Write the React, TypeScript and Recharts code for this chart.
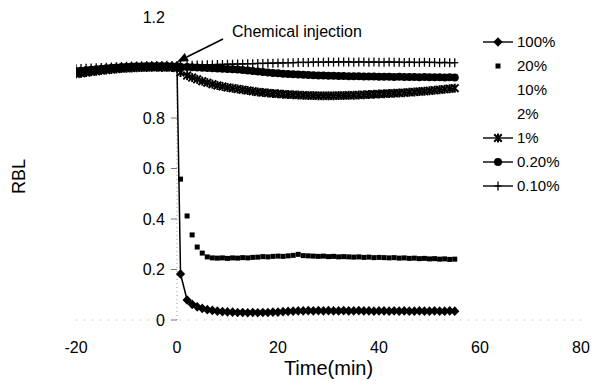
import React from "react";
import {
  LineChart,
  Line,
  XAxis,
  YAxis,
  ReferenceLine,
  ReferenceDot,
} from "recharts";

// time axis (min); injection at 0
const minutes = [
  -20, -19, -18, -17, -16, -15, -14, -13, -12, -11,
  -10, -9, -8, -7, -6, -5, -4, -3, -2, -1,
  0, 0.7,
  2, 3, 4, 5, 6, 7, 8, 9, 10,
  11, 12, 13, 14, 15, 16, 17, 18, 19, 20,
  21, 22, 23, 24, 25, 26, 27, 28, 29, 30,
  31, 32, 33, 34, 35, 36, 37, 38, 39, 40,
  41, 42, 43, 44, 45, 46, 47, 48, 49, 50,
  51, 52, 53, 54, 55,
];

const rbl100 = [
  0.978, 0.98, 0.983, 0.985, 0.988, 0.99, 0.993, 0.995, 0.997, 0.998,
  1.0, 1.0, 1.001, 1.002, 1.002, 1.003, 1.003, 1.003, 1.004, 1.003,
  1.003, 0.182,
  0.079, 0.062, 0.052, 0.046, 0.041, 0.038, 0.035, 0.033, 0.032,
  0.031, 0.03, 0.03, 0.029, 0.03, 0.029, 0.03, 0.03, 0.031, 0.031,
  0.033, 0.034, 0.035, 0.036, 0.036, 0.037, 0.036, 0.037, 0.036, 0.037,
  0.036, 0.036, 0.037, 0.036, 0.036, 0.037, 0.036, 0.036, 0.035, 0.036,
  0.036, 0.035, 0.036, 0.035, 0.036, 0.035, 0.035, 0.036, 0.035, 0.035,
  0.036, 0.035, 0.035, 0.036, 0.035,
];

const rbl20 = [
  0.99, 0.991, 0.993, 0.994, 0.996, 0.997, 0.998, 0.999, 1.0, 1.0,
  1.001, 1.001, 1.002, 1.002, 1.002, 1.003, 1.003, 1.002, 1.003, 1.003,
  1.002, 0.558,
  0.412, 0.337, 0.289, 0.265, 0.25, 0.246, 0.245, 0.246, 0.244,
  0.246, 0.245, 0.247, 0.246, 0.248, 0.249, 0.251, 0.25, 0.252, 0.253,
  0.252, 0.254, 0.256, 0.26, 0.255, 0.254, 0.253, 0.252, 0.253, 0.251,
  0.252, 0.25, 0.251, 0.25, 0.249, 0.25, 0.248, 0.249, 0.247, 0.248,
  0.247, 0.246, 0.247, 0.245, 0.246, 0.244, 0.245, 0.243, 0.244, 0.242,
  0.243, 0.241, 0.242, 0.24, 0.241,
];

const rbl1 = [
  0.975, 0.977, 0.98, 0.983, 0.985, 0.988, 0.99, 0.992, 0.994, 0.996,
  0.997, 0.998, 0.999, 1.0, 1.0, 1.001, 1.001, 1.0, 1.001, 1.0,
  0.998, 0.98,
  0.968, 0.96, 0.953, 0.946, 0.94, 0.934, 0.929, 0.925, 0.921,
  0.918, 0.915, 0.912, 0.909, 0.906, 0.903, 0.901, 0.899, 0.897, 0.896,
  0.894, 0.893, 0.892, 0.891, 0.89, 0.889, 0.889, 0.888, 0.888, 0.888,
  0.888, 0.889, 0.889, 0.89, 0.89, 0.891, 0.892, 0.893, 0.894, 0.895,
  0.896, 0.897, 0.898, 0.899, 0.9, 0.902, 0.903, 0.905, 0.906, 0.908,
  0.91, 0.912, 0.914, 0.916, 0.918,
];

const rbl02 = [
  0.985, 0.987, 0.989, 0.991, 0.993, 0.995, 0.997, 0.999, 1.0, 1.002,
  1.003, 1.004, 1.005, 1.005, 1.006, 1.006, 1.006, 1.006, 1.006, 1.005,
  1.005, 1.003,
  1.002, 1.001, 1.0, 0.999, 0.998, 0.997, 0.996, 0.995, 0.994,
  0.993, 0.992, 0.99, 0.988, 0.986, 0.984, 0.982, 0.98, 0.978, 0.977,
  0.975, 0.974, 0.973, 0.972, 0.971, 0.97, 0.969, 0.968, 0.968, 0.967,
  0.967, 0.966, 0.966, 0.965, 0.965, 0.965, 0.964, 0.964, 0.964, 0.963,
  0.963, 0.963, 0.962, 0.963, 0.962, 0.962, 0.962, 0.961, 0.962, 0.961,
  0.961, 0.961, 0.96, 0.961, 0.96,
];

const rbl01 = [
  0.995, 0.996, 0.997, 0.998, 0.999, 1.0, 1.001, 1.002, 1.003, 1.004,
  1.005, 1.006, 1.006, 1.007, 1.007, 1.008, 1.008, 1.008, 1.009, 1.008,
  1.008, 1.008,
  1.009, 1.009, 1.01, 1.01, 1.011, 1.011, 1.012, 1.012, 1.013,
  1.013, 1.014, 1.014, 1.015, 1.015, 1.016, 1.016, 1.017, 1.017, 1.018,
  1.018, 1.019, 1.019, 1.02, 1.02, 1.02, 1.021, 1.021, 1.021, 1.022,
  1.021, 1.022, 1.022, 1.022, 1.021, 1.022, 1.022, 1.021, 1.022, 1.021,
  1.021, 1.022, 1.021, 1.021, 1.02, 1.021, 1.02, 1.02, 1.021, 1.02,
  1.02, 1.019, 1.02, 1.019, 1.019,
];

const legendLabels = ["100%", "20%", "10%", "2%", "1%", "0.20%", "0.10%"];
// 10% and 2% traces are not visible in the figure -> no icon
const legendMarkers = ["diamond", "square", "", "", "star", "circle", "plus"];

const xTicks = [-20, 0, 20, 40, 60, 80];
const yTicks = [0, 0.2, 0.4, 0.6, 0.8, 1, 1.2];
const yTickLabels = ["0", "0.2", "0.4", "0.6", "0.8", "", "1.2"]; // "1" hidden under the traces

const data = minutes.map((t, i) => ({
  t,
  p100: rbl100[i],
  p20: rbl20[i],
  p1: rbl1[i],
  p02: rbl02[i],
  p01: rbl01[i],
}));

const FONT = "'Liberation Sans', Arial, Helvetica, sans-serif";

function markerShape(kind: string, cx: number, cy: number, key?: string | number) {
  switch (kind) {
    case "diamond":
      return (
        <path key={key} d={`M${cx},${cy - 4.8}L${cx + 4.6},${cy}L${cx},${cy + 4.8}L${cx - 4.6},${cy}Z`} fill="#000" />
      );
    case "square":
      return <rect key={key} x={cx - 2.5} y={cy - 2.5} width={5} height={5} fill="#000" />;
    case "circle":
      return <circle key={key} cx={cx} cy={cy} r={4} fill="#000" />;
    case "star":
      return (
        <g key={key} stroke="#000" strokeWidth={2}>
          <line x1={cx - 3.8} y1={cy - 3.8} x2={cx + 3.8} y2={cy + 3.8} />
          <line x1={cx - 3.8} y1={cy + 3.8} x2={cx + 3.8} y2={cy - 3.8} />
          <line x1={cx} y1={cy - 4.5} x2={cx} y2={cy + 4.5} />
        </g>
      );
    case "plus":
      return (
        <g key={key} stroke="#000" strokeWidth={1.3}>
          <line x1={cx - 3.5} y1={cy} x2={cx + 3.5} y2={cy} />
          <line x1={cx} y1={cy - 4.5} x2={cx} y2={cy + 4.5} />
        </g>
      );
    default:
      return <g key={key} />;
  }
}

function dotFor(kind: string) {
  return (p: any) => {
    if (p.cx == null || p.cy == null) return <g key={`e-${p.index}`} />;
    return markerShape(kind, p.cx, p.cy, `${kind}-${p.index}`);
  };
}

function InjectionArrow(p: any) {
  const { cx, cy } = p;
  if (cx == null || cy == null) return <g />;
  const sx = cx + 46;
  const sy = cy - 23;
  // arrowhead along the shaft direction
  const len = Math.hypot(sx - cx, sy - cy);
  const ux = (sx - cx) / len;
  const uy = (sy - cy) / len;
  const hl = 11;
  const hw = 4.5;
  const bx = cx + ux * hl;
  const by = cy + uy * hl;
  return (
    <g>
      <line x1={sx} y1={sy} x2={bx} y2={by} stroke="#000" strokeWidth={1.6} />
      <path
        d={`M${cx},${cy}L${bx - uy * hw},${by + ux * hw}L${bx + uy * hw},${by - ux * hw}Z`}
        fill="#000"
      />
      <text x={cx + 55} y={cy - 31} dy="0.35em" fontSize={16} fontFamily={FONT} fill="#000">
        Chemical injection
      </text>
    </g>
  );
}

function LegendBox() {
  return (
    <div
      style={{
        position: "absolute",
        left: 483,
        top: 30,
        fontFamily: FONT,
        fontSize: 15,
        color: "#000",
      }}
    >
      {legendLabels.map((name, i) => {
        const kind = legendMarkers[i];
        const withLine = kind !== "" && kind !== "square";
        return (
          <div key={name} style={{ display: "flex", alignItems: "center", height: 24 }}>
            <svg width={30} height={24} style={{ display: "block" }}>
              {withLine && <line x1={0} y1={12} x2={30} y2={12} stroke="#000" strokeWidth={1.4} />}
              {kind && markerShape(kind, 15, 12)}
            </svg>
            <span style={{ marginLeft: 4, lineHeight: "24px" }}>{name}</span>
          </div>
        );
      })}
    </div>
  );
}

export default function App() {
  return (
    <div style={{ position: "relative", width: 592, height: 386, background: "#fff", fontFamily: FONT }}>
      <style>{"body{margin:0;background:#fff}"}</style>
      <LineChart width={592} height={386} data={data} margin={{ top: 17, right: 11, bottom: 6, left: 0 }}>
        <XAxis
          dataKey="t"
          type="number"
          domain={[-20, 80]}
          ticks={xTicks}
          allowDataOverflow
          height={60}
          tickSize={0}
          tickLine={false}
          tickMargin={22}
          axisLine={{ stroke: "#a8a8a8", strokeDasharray: "1 7" }}
          tick={{ fill: "#000", fontSize: 16, fontFamily: FONT }}
          label={{
            value: "Time(min)",
            position: "insideBottom",
            offset: 5,
            fill: "#000",
            fontSize: 20,
            fontFamily: FONT,
          }}
        />
        <YAxis
          type="number"
          domain={[0, 1.2]}
          ticks={yTicks}
          width={76}
          tick={false}
          axisLine={false}
          tickLine={false}
          label={{
            value: "RBL",
            content: (lp: any) => {
              const vb = lp.viewBox || { x: 0, y: 17, width: 76, height: 303 };
              const x = vb.x + 19;
              const y = vb.y + vb.height / 2 + 8;
              return (
                <text
                  x={x}
                  y={y}
                  transform={`rotate(-90, ${x}, ${y})`}
                  textAnchor="middle"
                  dy="0.35em"
                  fontSize={18}
                  fontFamily={FONT}
                  fill="#000"
                >
                  RBL
                </text>
              );
            },
          }}
        />
        {/* vertical axis crosses at time 0 */}
        <ReferenceLine
          segment={[
            { x: 0, y: 0 },
            { x: 0, y: 1 },
          ]}
          stroke="#9a9a9a"
          strokeDasharray="1 3"
        />
        {yTicks.map((v, i) => (
          <ReferenceLine
            key={`yt-${v}`}
            segment={[
              { x: -1.2, y: v },
              { x: 0, y: v },
            ]}
            stroke={v === 1.2 ? "none" : "#777"}
            label={{
              value: yTickLabels[i],
              position: "left",
              offset: 6,
              fill: "#000",
              fontSize: 16,
              fontFamily: FONT,
            }}
          />
        ))}
        <Line
          dataKey="p20"
          stroke="none"
          dot={dotFor("square")}
          activeDot={false}
          isAnimationActive={false}
        />
        <Line
          dataKey="p100"
          stroke="#000"
          strokeWidth={1.5}
          dot={dotFor("diamond")}
          activeDot={false}
          isAnimationActive={false}
        />
        <Line
          dataKey="p1"
          stroke="#000"
          strokeWidth={1.5}
          dot={dotFor("star")}
          activeDot={false}
          isAnimationActive={false}
        />
        <Line
          dataKey="p02"
          stroke="#000"
          strokeWidth={1.5}
          dot={dotFor("circle")}
          activeDot={false}
          isAnimationActive={false}
        />
        <Line
          dataKey="p01"
          stroke="#000"
          strokeWidth={1.2}
          dot={dotFor("plus")}
          activeDot={false}
          isAnimationActive={false}
        />
        <ReferenceDot x={0} y={1.022} r={0} shape={InjectionArrow} />
      </LineChart>
      <LegendBox />
    </div>
  );
}
